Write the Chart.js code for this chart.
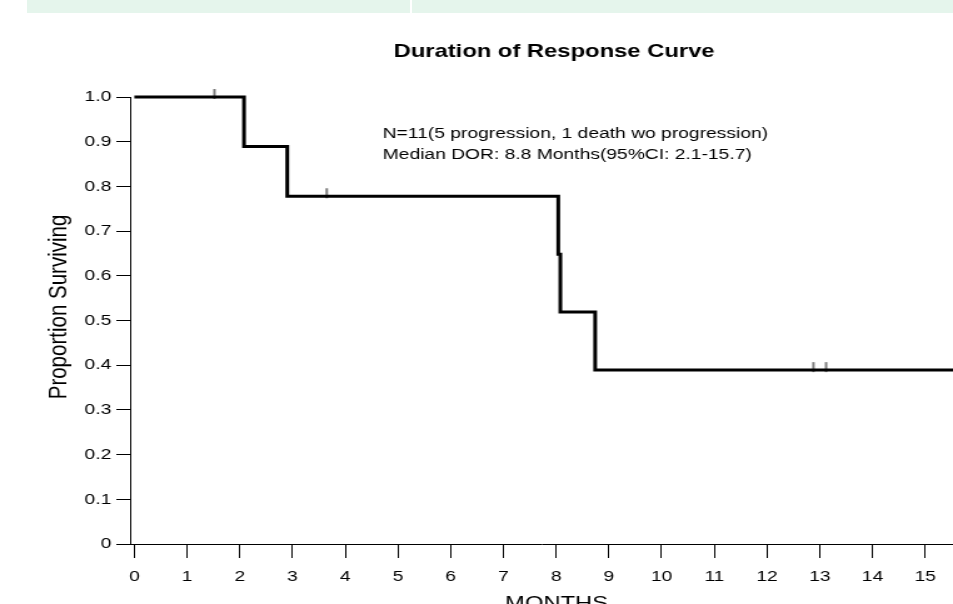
<!DOCTYPE html>
<html>
<head>
<meta charset="utf-8">
<title>Duration of Response Curve</title>
<script src="https://cdn.jsdelivr.net/npm/chart.js@4.4.1/dist/chart.umd.min.js"></script>
<style>
    html, body { margin: 0; padding: 0; background: #fff; overflow: hidden; }
    .bar { position: absolute; top: 0; height: 13px; background: #e5f5ec; }
    #km-chart { position: absolute; left: 0; top: 0; }
</style>
</head>
<body>
<div class="bar" style="left:27px;width:383px"></div>
<div class="bar" style="left:412px;width:541px"></div>
<!-- drawn at 762px wide and stretched to 953px, like the original picture -->
<canvas id="km-chart" width="762" height="604" style="width:953px;height:604px"></canvas>

<script>
var xTicks = [0, 1, 2, 3, 4, 5, 6, 7, 8, 9, 10, 11, 12, 13, 14, 15];
var yTicks = [0, 0.1, 0.2, 0.3, 0.4, 0.5, 0.6, 0.7, 0.8, 0.9, 1.0];

// Kaplan-Meier steps (months, proportion surviving)
var months = [0, 2.08, 2.9, 8.04, 8.08, 8.74, 15.53];
var surviving = [1, 0.889, 0.778, 0.648, 0.519, 0.389, 0.389];

// censored patients
var censorMonths = [1.52, 3.65, 12.88, 13.12];
var censorSurviving = [1, 0.778, 0.389, 0.389];

var chartTitle = 'Duration of Response Curve';
var notes = ['N=11(5 progression, 1 death wo progression)', 'Median DOR: 8.8 Months(95%CI: 2.1-15.7)'];
var xTitle = 'MONTHS';
var yTitle = 'Proportion Surviving';

var FONT = '"Liberation Sans", Arial, sans-serif';

function censorMark() {
    var c = document.createElement('canvas');
    c.width = 4;
    c.height = 20;
    var g = c.getContext('2d');
    g.fillStyle = '#555';
    g.fillRect(1.2, 2, 1.5, 10);
    return c;
}

var textPlugin = {
    id: 'texts',
    afterDraw: function (chart) {
        var ctx = chart.ctx;
        ctx.save();
        ctx.fillStyle = '#000';
        ctx.textBaseline = 'alphabetic';

        ctx.textAlign = 'center';
        ctx.font = 'bold 19px ' + FONT;
        ctx.fillText(chartTitle, 443, 57);

        ctx.textAlign = 'left';
        ctx.font = '15.4px ' + FONT;
        ctx.fillText(notes[0], 306, 138);
        ctx.fillText(notes[1], 306, 159);

        ctx.textAlign = 'center';
        ctx.font = '19px ' + FONT;
        ctx.fillText(xTitle, 445, 609);

        ctx.translate(53, 307);
        ctx.rotate(-Math.PI / 2);
        ctx.font = '20.5px ' + FONT;
        ctx.fillText(yTitle, 0, 0);
        ctx.restore();
    }
};

function KMChart() {
    var ctx = document.getElementById('km-chart');
    var curve = months.map(function (m, i) { return {x: m, y: surviving[i]}; });
    var censored = censorMonths.map(function (m, i) { return {x: m, y: censorSurviving[i]}; });

    var chart = new Chart(ctx, {
        type: 'line',
        data: {
            datasets: [{
                data: curve,
                stepped: 'before',
                borderColor: '#000',
                borderWidth: 3,
                pointRadius: 0,
                fill: false,
                clip: false
            }, {
                data: censored,
                showLine: false,
                pointStyle: censorMark(),
                clip: false
            }]
        },
        options: {
            responsive: false,
            animation: false,
            events: [],
            layout: {autoPadding: false, padding: {top: 97, right: 0, left: 0, bottom: 0}},
            plugins: {legend: {display: false}, tooltip: {enabled: false}},
            scales: {
                x: {
                    type: 'linear',
                    min: -0.081,
                    max: 15.527,
                    afterBuildTicks: function (scale) {
                        scale.ticks = xTicks.map(function (v) { return {value: v}; });
                    },
                    afterFit: function (scale) {
                        scale.height = 60;
                        scale.paddingLeft = 0;
                        scale.paddingRight = 0;
                    },
                    grid: {drawOnChartArea: false, drawTicks: true, tickLength: 14, color: '#000', lineWidth: 1},
                    border: {color: '#000', width: 1},
                    ticks: {
                        color: '#000',
                        padding: 10,
                        maxRotation: 0,
                        font: {family: FONT, size: 15.4},
                        callback: function (v) { return String(v); }
                    }
                },
                y: {
                    min: 0,
                    max: 1,
                    afterBuildTicks: function (scale) {
                        scale.ticks = yTicks.map(function (v) { return {value: v}; });
                    },
                    afterFit: function (scale) {
                        scale.width = 104;
                        scale.paddingTop = 0;
                        scale.paddingBottom = 0;
                    },
                    grid: {drawOnChartArea: false, drawTicks: true, tickLength: 11, color: '#000', lineWidth: 1},
                    border: {color: '#000', width: 1},
                    ticks: {
                        color: '#000',
                        padding: 4,
                        font: {family: FONT, size: 15.4},
                        callback: function (v) { return v === 0 ? '0' : v.toFixed(1); }
                    }
                }
            }
        },
        plugins: [textPlugin]
    });
}

KMChart();
</script>
</body>
</html>
